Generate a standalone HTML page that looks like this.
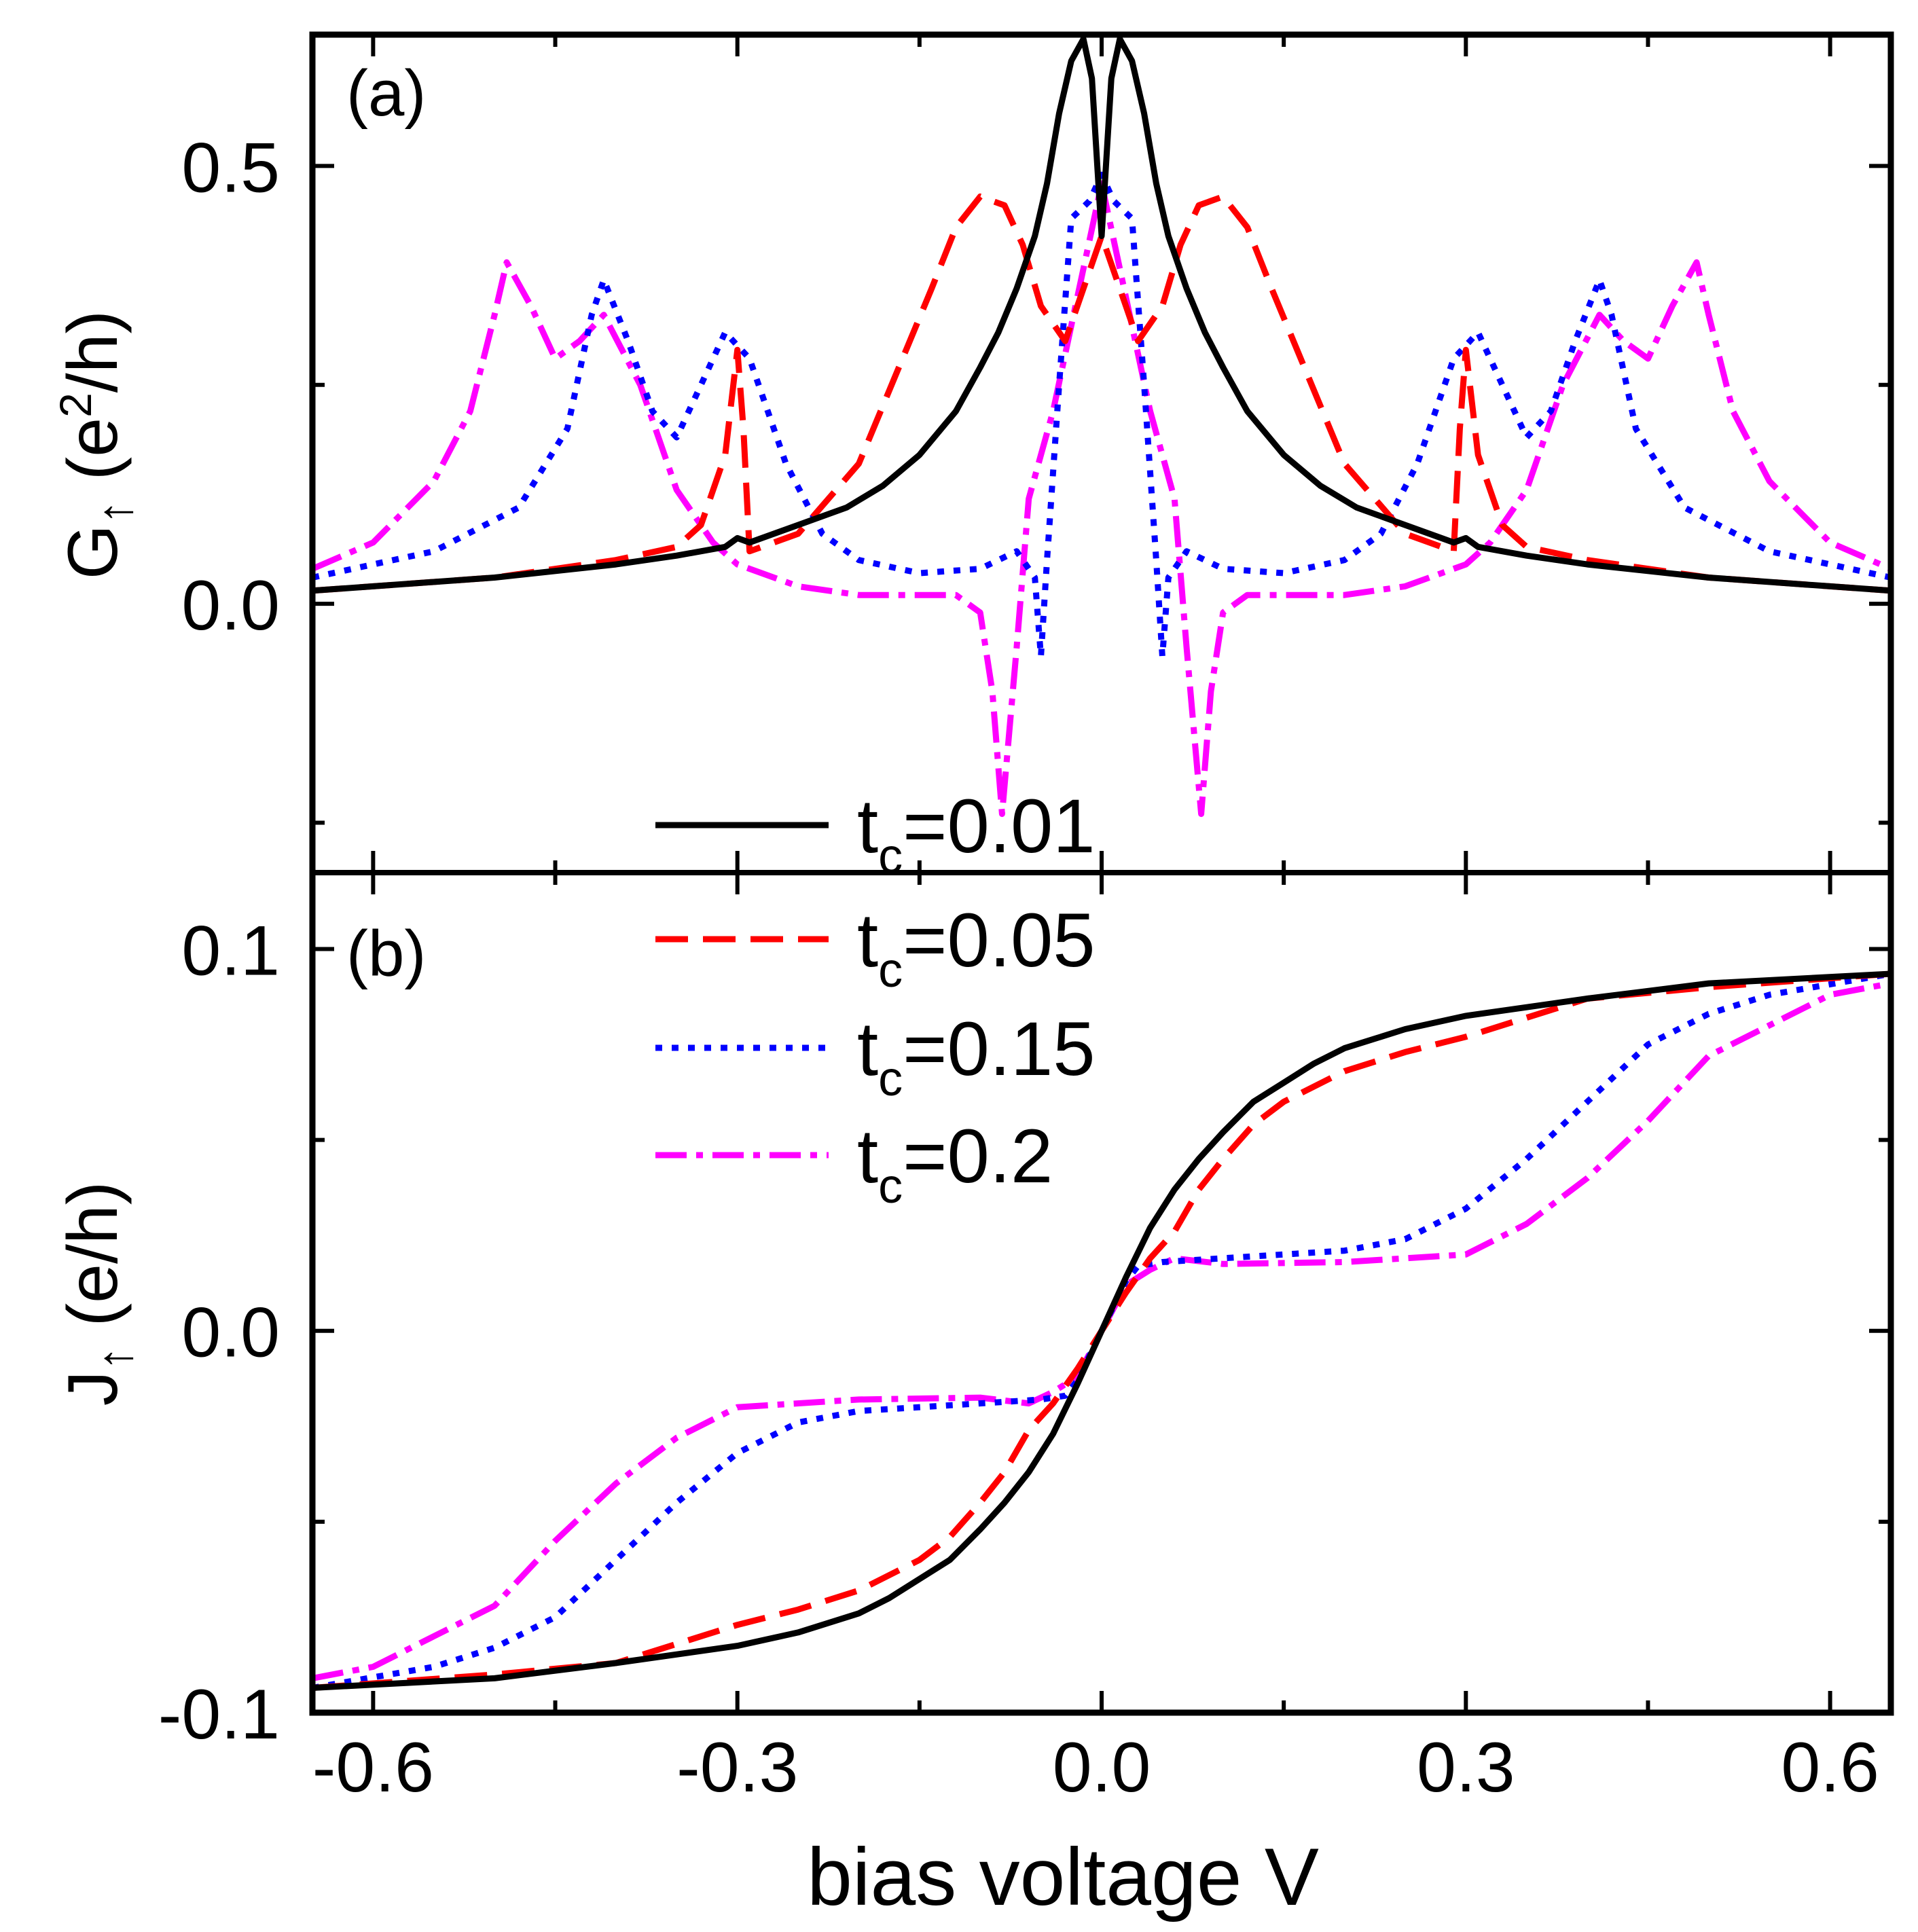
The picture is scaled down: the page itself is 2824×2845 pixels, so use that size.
<!DOCTYPE html>
<html><head><meta charset="utf-8"><style>
html,body{margin:0;padding:0;background:#fff}
svg{display:block}
text{font-family:"Liberation Sans",Arial,sans-serif;fill:#000}
</style></head><body>
<svg id="chart" width="2824" height="2845" viewBox="0 0 2824 2845" xmlns="http://www.w3.org/2000/svg">
<g id="plots"></g>
<g id="axes"></g>
</svg>
<script>
// ---- data (positive-voltage half; series are mirrored: G symmetric, J antisymmetric) ----
const gV_black=[0,0.008,0.015,0.025,0.035,0.045,0.055,0.07,0.085,0.1,0.12,0.15,0.18,0.21,0.25,0.29,0.3,0.31,0.35,0.4,0.5,0.65];
const gY_black=[0.42,0.6,0.645,0.62,0.56,0.48,0.42,0.36,0.31,0.27,0.22,0.17,0.135,0.11,0.09,0.07,0.075,0.065,0.055,0.045,0.03,0.015];
const gV_red=[0,0.01,0.03,0.05,0.065,0.08,0.1,0.12,0.14,0.17,0.2,0.25,0.29,0.295,0.3,0.31,0.33,0.35,0.4,0.5,0.65];
const gY_red=[0.42,0.38,0.3,0.34,0.41,0.455,0.465,0.43,0.36,0.26,0.16,0.08,0.06,0.2,0.29,0.17,0.09,0.065,0.05,0.03,0.015];
const gV_blue=[0,0.01,0.025,0.035,0.045,0.05,0.055,0.07,0.1,0.15,0.2,0.23,0.26,0.29,0.31,0.33,0.35,0.37,0.39,0.41,0.42,0.44,0.48,0.55,0.65];
const gY_blue=[0.49,0.46,0.44,0.25,0.05,-0.06,0.03,0.06,0.04,0.035,0.05,0.08,0.16,0.28,0.31,0.25,0.19,0.22,0.3,0.37,0.33,0.2,0.11,0.06,0.03];
const gV_mag=[0,0.02,0.04,0.06,0.07,0.082,0.09,0.1,0.12,0.15,0.2,0.25,0.3,0.32,0.35,0.38,0.41,0.43,0.45,0.47,0.49,0.5,0.52,0.55,0.6,0.65];
const gY_mag=[0.48,0.35,0.22,0.12,-0.05,-0.24,-0.1,-0.01,0.01,0.01,0.01,0.02,0.045,0.07,0.13,0.25,0.33,0.3,0.28,0.34,0.39,0.33,0.22,0.14,0.07,0.04];
const jV_black=[0,0.02,0.04,0.06,0.08,0.1,0.125,0.15,0.175,0.2,0.25,0.3,0.4,0.5,0.65];
const jY_black=[0,0.014,0.027,0.037,0.045,0.052,0.06,0.065,0.07,0.074,0.079,0.0825,0.087,0.091,0.0935];
const jV_red=[0,0.02,0.04,0.06,0.08,0.1,0.125,0.15,0.2,0.25,0.3,0.4,0.5,0.65];
const jY_red=[0,0.01,0.019,0.026,0.037,0.045,0.054,0.06,0.068,0.073,0.077,0.087,0.09,0.0935];
const jV_blue=[0,0.02,0.03,0.05,0.1,0.2,0.25,0.3,0.35,0.4,0.45,0.5,0.55,0.65];
const jY_blue=[0,0.013,0.017,0.018,0.019,0.021,0.024,0.032,0.045,0.06,0.075,0.083,0.088,0.0935];
const jV_mag=[0,0.02,0.04,0.06,0.1,0.2,0.3,0.35,0.4,0.45,0.5,0.55,0.6,0.65];
const jY_mag=[0,0.012,0.016,0.019,0.0175,0.018,0.02,0.028,0.04,0.055,0.072,0.08,0.088,0.091];
const xTicks=[-0.6,-0.3,0.0,0.3,0.6];
const xTickLabels=["-0.6","-0.3","0.0","0.3","0.6"];
const gTicks=[0.0,0.5];
const gTickLabels=["0.0","0.5"];
const jTicks=[-0.1,0.0,0.1];
const jTickLabels=["-0.1","0.0","0.1"];
const legendLabels=["0.01","0.05","0.15","0.2"];

const L=460,R=2784,T1=51,B1=1285,B2=2522;
const X=v=>L+(v+0.65)/1.3*(R-L);
const YG=g=>T1+(0.65-g)/(0.65+0.307)*(B1-T1);
const YJ=j=>B1+(0.12-j)/0.22*(B2-B1);
const NS="http://www.w3.org/2000/svg";
const plots=document.getElementById('plots'),axes=document.getElementById('axes');
function mk(tag,attrs,parent){const e=document.createElementNS(NS,tag);for(const k in attrs)e.setAttribute(k,attrs[k]);parent.appendChild(e);return e;}
function mirror(vs,ys,anti){const V=[],Y=[];for(let i=vs.length-1;i>0;i--){V.push(-vs[i]);Y.push(anti?-ys[i]:ys[i]);}for(let i=0;i<vs.length;i++){V.push(vs[i]);Y.push(ys[i]);}return [V,Y];}
const styles=[{c:"#000",d:""},{c:"#ff0000",d:"48 22"},{c:"#0000ff",d:"10 14"},{c:"#ff00ff",d:"46 14 10 14"}];
const names=["t001","t005","t015","t02"];
const defs=mk('defs',{},plots);
const cp1=mk('clipPath',{id:'cp1'},defs);mk('rect',{x:L,y:T1,width:R-L,height:B1-T1},cp1);
const cp2=mk('clipPath',{id:'cp2'},defs);mk('rect',{x:L,y:B1,width:R-L,height:B2-B1},cp2);
const gs=[[gV_black,gY_black],[gV_red,gY_red],[gV_blue,gY_blue],[gV_mag,gY_mag]];
const js=[[jV_black,jY_black],[jV_red,jY_red],[jV_blue,jY_blue],[jV_mag,jY_mag]];
for(let s=3;s>=0;s--){
  let [V,Y]=mirror(gs[s][0],gs[s][1],false);
  let p=mk('path',{d:V.map((v,i)=>(i?'L':'M')+X(v).toFixed(1)+','+YG(Y[i]).toFixed(1)).join(''),fill:'none',stroke:styles[s].c,'stroke-width':9,'stroke-dasharray':styles[s].d,'stroke-linejoin':'round','clip-path':'url(#cp1)'},plots);
  
  
  [V,Y]=mirror(js[s][0],js[s][1],true);
  p=mk('path',{d:V.map((v,i)=>(i?'L':'M')+X(v).toFixed(1)+','+YJ(Y[i]).toFixed(1)).join(''),fill:'none',stroke:styles[s].c,'stroke-width':9,'stroke-dasharray':styles[s].d,'stroke-linejoin':'round','clip-path':'url(#cp2)'},plots);
  
  
}
let f=mk('rect',{x:L,y:T1,width:R-L,height:B2-T1,fill:'none',stroke:'#000','stroke-width':9},axes);


mk('line',{x1:L,x2:R,y1:B1,y2:B1,stroke:'#000','stroke-width':8},axes);
for(let v=-0.6;v<=0.601;v+=0.15){const maj=Math.abs(Math.round(v/0.3)*0.3-v)<1e-6;const len=maj?32:18;const x=X(v);
 for(const [y,dir] of [[T1,1],[B1,-1],[B1,1],[B2,-1]]) mk('line',{x1:x,x2:x,y1:y,y2:y+dir*len,stroke:'#000','stroke-width':6},axes);}
xTicks.forEach((v,i)=>{const t=mk('text',{x:X(v),y:2638,'font-size':104,'text-anchor':'middle'},axes);t.textContent=xTickLabels[i];
 
 });
for(let g=-0.25;g<=0.51;g+=0.25){const maj=Math.abs(g%0.5)<1e-6;const len=maj?32:18;const y=YG(g);
 mk('line',{x1:L,x2:L+len,y1:y,y2:y,stroke:'#000','stroke-width':6},axes);mk('line',{x1:R,x2:R-len,y1:y,y2:y,stroke:'#000','stroke-width':6},axes);}
gTicks.forEach((g,i)=>{const t=mk('text',{x:412,y:YG(g)+38,'font-size':104,'text-anchor':'end'},axes);t.textContent=gTickLabels[i];
 
 });
for(let j=-0.1;j<=0.101;j+=0.05){const maj=Math.abs(Math.round(j/0.1)*0.1-j)<1e-6;const len=maj?32:18;const y=YJ(j);
 mk('line',{x1:L,x2:L+len,y1:y,y2:y,stroke:'#000','stroke-width':6},axes);mk('line',{x1:R,x2:R-len,y1:y,y2:y,stroke:'#000','stroke-width':6},axes);}
jTicks.forEach((j,i)=>{const t=mk('text',{x:412,y:YJ(j)+38,'font-size':104,'text-anchor':'end'},axes);t.textContent=jTickLabels[i];
 
 });
legendLabels.forEach((lab,i)=>{const y=[1215,1383,1543,1701][i];
 const ln=mk('line',{x1:965,x2:1220,y1:y,y2:y,stroke:styles[i].c,'stroke-width':9,'stroke-dasharray':styles[i].d},axes);
 
 
 const t=mk('text',{x:1262,y:y+40,'font-size':112},axes);
 t.innerHTML='t<tspan font-size="72" dy="30">c</tspan><tspan dy="-30">='+lab+'</tspan>';
 
 });
</script>
<svg style="position:absolute;left:0;top:0" width="2824" height="2845" viewBox="0 0 2824 2845" xmlns="http://www.w3.org/2000/svg">
<text x="510" y="170" font-size="96">(a)</text>
<text x="510" y="1437" font-size="96">(b)</text>
<text x="1565" y="2805" font-size="120" text-anchor="middle">bias voltage V</text>
<text transform="translate(172,655) rotate(-90)" font-size="104" text-anchor="middle">G<tspan font-size="72" dy="22">↑</tspan><tspan dy="-22"> (e</tspan><tspan font-size="66" dy="-38">2</tspan><tspan dy="38">/h)</tspan></text>
<text transform="translate(172,1905) rotate(-90)" font-size="104" text-anchor="middle">J<tspan font-size="72" dy="22">↑</tspan><tspan dy="-22"> (e/h)</tspan></text>
</svg>
</body></html>
